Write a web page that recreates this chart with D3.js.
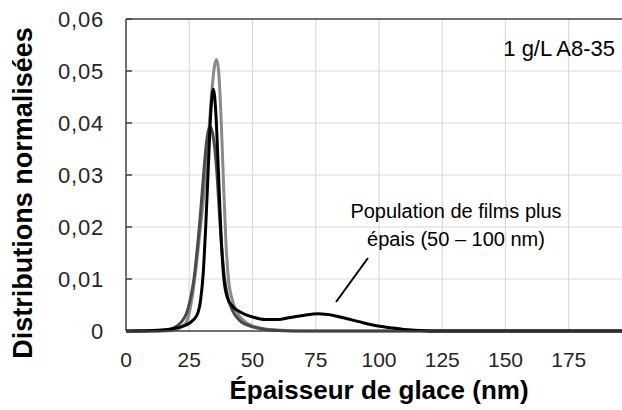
<!DOCTYPE html>
<html>
<head>
<meta charset="utf-8">
<script src="https://cdn.jsdelivr.net/npm/d3@7"></script>
<style>
  body { margin: 0; background: #fff; }
  svg { display: block; font-family: "Liberation Sans", Arial, sans-serif; }
</style>
</head>
<body>
<svg id="chart" width="622" height="410"></svg>
<script>
// Thickness values (nm) and normalised distributions.
const grayX = [0, 15, 20, 22, 24, 26, 28, 30, 32, 33, 34, 35, 35.8, 36.6, 37.5, 38.5, 39.5, 40.5, 42, 44, 47, 50, 55, 60, 70, 200];
const grayY = [0, 0, 0.0003, 0.0008, 0.0018, 0.006, 0.0135, 0.0225, 0.033, 0.04, 0.0465, 0.051, 0.0522, 0.05, 0.042, 0.029, 0.017, 0.01, 0.006, 0.0035, 0.0018, 0.001, 0.0004, 0.0002, 0, 0];

const darkX = [0, 10, 15, 18, 20, 22, 24, 26, 27, 28, 29, 30, 31, 32, 33.2, 34, 35, 36, 37, 38, 39, 40, 42, 45, 50, 55, 60, 70, 200];
const darkY = [0, 0, 0.0001, 0.0004, 0.0009, 0.0018, 0.0035, 0.0075, 0.0105, 0.015, 0.02, 0.026, 0.032, 0.037, 0.0393, 0.0385, 0.0355, 0.03, 0.022, 0.015, 0.01, 0.007, 0.004, 0.002, 0.0008, 0.0003, 0.0001, 0, 0];

const blackX = [0, 10, 19, 25, 28, 29.5, 30.5, 31.5, 32.5, 33.5, 34.5, 35.5, 36.5, 37.5, 38.5, 40, 42, 45, 50, 55, 60, 65, 70, 76, 82, 88, 92, 98, 105, 110, 116, 125, 200];
const blackY = [0, 0.0001, 0.0005, 0.0015, 0.003, 0.006, 0.011, 0.02, 0.031, 0.042, 0.0465, 0.042, 0.031, 0.019, 0.011, 0.0065, 0.0048, 0.0037, 0.0027, 0.0022, 0.0022, 0.0026, 0.003, 0.0033, 0.003, 0.0023, 0.0018, 0.0011, 0.0006, 0.0003, 0.0001, 0, 0];

const xTicks = [0, 25, 50, 75, 100, 125, 150, 175];
const yTicks = [0, 0.01, 0.02, 0.03, 0.04, 0.05, 0.06];

const svg = d3.select("#chart");

const x = d3.scaleLinear().domain([0, 200]).range([126, 632]);
const y = d3.scaleLinear().domain([0, 0.06]).range([331, 19]);

const fmt = v => v === 0 ? "0" : d3.format(".2f")(v).replace(".", ",");

// Grid lines.
svg.append("g")
    .selectAll("line.vg")
    .data(xTicks.filter(d => d > 0))
    .join("line")
    .attr("x1", d => x(d)).attr("x2", d => x(d))
    .attr("y1", y(0.06)).attr("y2", y(0))
    .attr("stroke", "#d9d9d9").attr("stroke-width", 1.2);

svg.append("g")
    .selectAll("line.hg")
    .data(yTicks.filter(d => d > 0 && d < 0.06))
    .join("line")
    .attr("x1", x(0)).attr("x2", 622)
    .attr("y1", d => y(d)).attr("y2", d => y(d))
    .attr("stroke", "#d9d9d9").attr("stroke-width", 1.2);

// Curves.
const series = [
    { xs: grayX, ys: grayY, color: "#8a8a8a" },
    { xs: darkX, ys: darkY, color: "#4a4a4a" },
    { xs: blackX, ys: blackY, color: "#000000" }
];

const line = d3.line()
    .x(d => x(d[0]))
    .y(d => y(d[1]))
    .curve(d3.curveMonotoneX);

series.forEach(function(s) {
    svg.append("path")
        .datum(s.xs.map((v, i) => [v, s.ys[i]]))
        .attr("d", line)
        .attr("fill", "none")
        .attr("stroke", s.color)
        .attr("stroke-width", 3)
        .attr("stroke-linejoin", "round");
});

// Frame: left, bottom and top.
const frame = svg.append("g").attr("stroke", "#404040").attr("stroke-width", 1.5);
frame.append("line").attr("x1", x(0)).attr("x2", x(0)).attr("y1", y(0.06)).attr("y2", y(0));
frame.append("line").attr("x1", x(0)).attr("x2", 622).attr("y1", y(0)).attr("y2", y(0));
frame.append("line").attr("x1", x(0)).attr("x2", 622).attr("y1", y(0.06)).attr("y2", y(0.06));

// Inward ticks on the y axis.
svg.append("g")
    .selectAll("line")
    .data(yTicks)
    .join("line")
    .attr("x1", x(0)).attr("x2", x(0) + 6)
    .attr("y1", d => y(d)).attr("y2", d => y(d))
    .attr("stroke", "#404040").attr("stroke-width", 1.5);

// Tick labels.
svg.append("g")
    .selectAll("text")
    .data(yTicks)
    .join("text")
    .attr("x", 104)
    .attr("y", d => y(d) + 8)
    .attr("text-anchor", "end")
    .attr("font-size", 22)
    .attr("letter-spacing", 0.8)
    .attr("fill", "#262626")
    .text(fmt);

svg.append("g")
    .selectAll("text")
    .data(xTicks)
    .join("text")
    .attr("x", d => x(d))
    .attr("y", 367)
    .attr("text-anchor", "middle")
    .attr("font-size", 21)
    .attr("fill", "#262626")
    .text(d => d);

// Axis titles.
svg.append("text")
    .attr("x", 379)
    .attr("y", 399)
    .attr("text-anchor", "middle")
    .attr("font-size", 26)
    .attr("font-weight", "bold")
    .attr("fill", "#000")
    .text("Épaisseur de glace (nm)");

svg.append("text")
    .attr("transform", "translate(32,193) rotate(-90)")
    .attr("text-anchor", "middle")
    .attr("font-size", 27)
    .attr("font-weight", "bold")
    .attr("fill", "#000")
    .text("Distributions normalisées");

// Labels inside the plot.
svg.append("text")
    .attr("x", 615)
    .attr("y", 56)
    .attr("text-anchor", "end")
    .attr("font-size", 22)
    .attr("fill", "#000")
    .text("1 g/L A8-35");

const note = svg.append("text")
    .attr("text-anchor", "middle")
    .attr("font-size", 20)
    .attr("fill", "#000");
note.append("tspan").attr("x", 456).attr("y", 218).text("Population de films plus");
note.append("tspan").attr("x", 456).attr("y", 246).text("épais (50 – 100 nm)");

svg.append("line")
    .attr("x1", 368).attr("y1", 258)
    .attr("x2", 336).attr("y2", 302)
    .attr("stroke", "#000").attr("stroke-width", 2);
</script>
</body>
</html>
